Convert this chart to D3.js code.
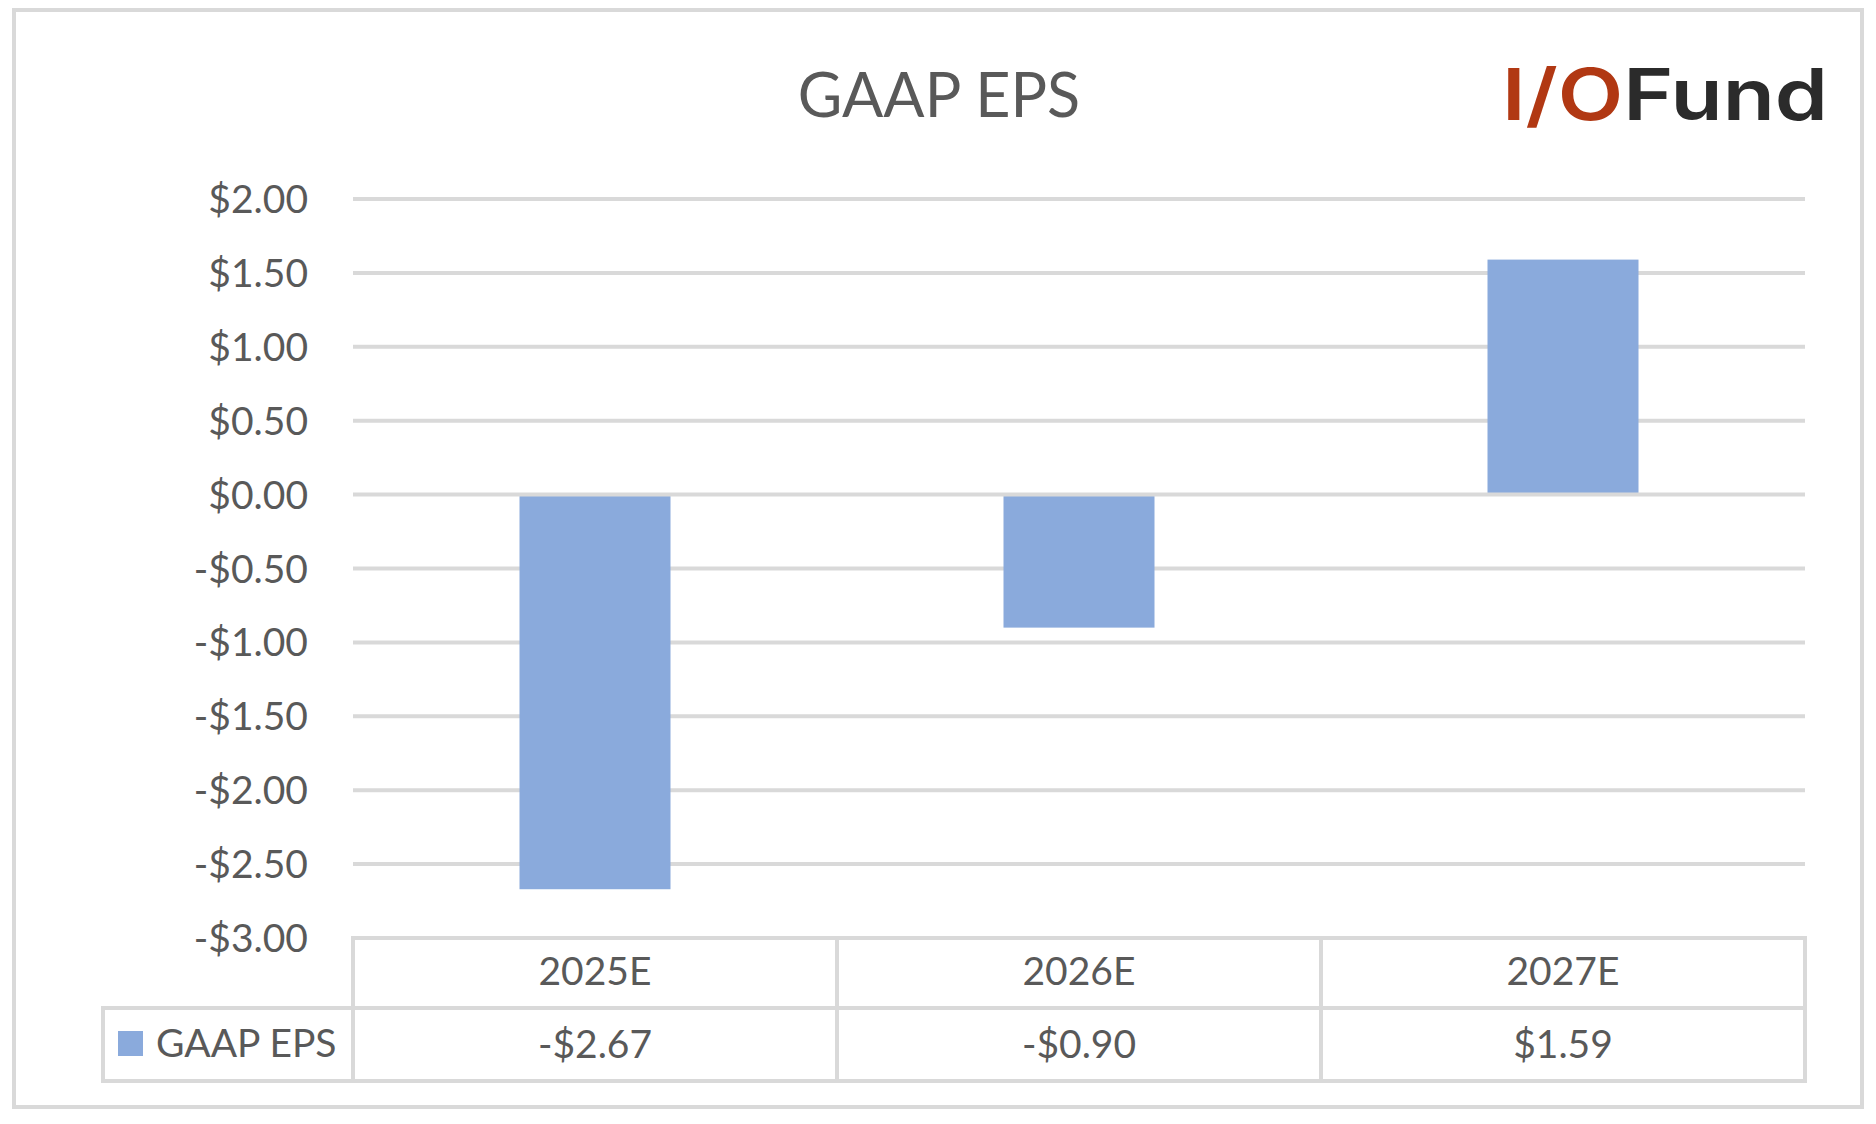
<!DOCTYPE html>
<html>
<head>
<meta charset="utf-8">
<script src="https://cdn.jsdelivr.net/npm/d3@7"></script>
<style>
  body { margin: 0; background: #ffffff; }
  svg { display: block; }
</style>
</head>
<body>
<div id="chart"></div>
<script>
// ----- data -----
const categories = ["2025E", "2026E", "2027E"];
const epsValues = [-2.67, -0.90, 1.59];
const epsLabels = ["-$2.67", "-$0.90", "$1.59"];
const yTicks = [2, 1.5, 1, 0.5, 0, -0.5, -1, -1.5, -2, -2.5, -3];
const seriesName = "GAAP EPS";

const W = 1876, H = 1124;
const barColor = "#8aaadc";
const gridColor = "#d9d9d9";
const textColor = "#595959";
const font = "Lato, 'Open Sans', sans-serif";

const svg = d3.select("#chart").append("svg")
  .attr("width", W)
  .attr("height", H);

// outer frame
svg.append("rect")
  .attr("x", 14).attr("y", 10)
  .attr("width", 1848).attr("height", 1097)
  .attr("fill", "#fff")
  .attr("stroke", gridColor)
  .attr("stroke-width", 4);

const plot = { left: 353, right: 1805, top: 199, bottom: 938 };

const x = d3.scaleBand()
  .domain(categories)
  .range([plot.left, plot.right])
  .paddingInner(0.688)
  .paddingOuter(0.344);

const cols = d3.scaleBand()
  .domain(categories)
  .range([plot.left, plot.right]);

const y = d3.scaleLinear()
  .domain([-3, 2])
  .range([plot.bottom, plot.top]);

// ----- title -----
svg.append("text")
  .attr("x", 939).attr("y", 117)
  .attr("text-anchor", "middle")
  .attr("font-family", font)
  .attr("font-size", 61)
  .attr("fill", textColor)
  .text("GAAP EPS");

// ----- logo -----
const logo = svg.append("text")
  .attr("x", 1502).attr("y", 120)
  .attr("font-family", "Inter, sans-serif")
  .attr("font-weight", 600)
  .attr("font-size", 71)
  .attr("textLength", 326)
  .attr("lengthAdjust", "spacingAndGlyphs");
logo.append("tspan").attr("fill", "#b13813").text("I/O");
logo.append("tspan").attr("fill", "#2b2b2b").text("Fund");

// ----- grid -----
svg.append("g")
  .selectAll("line")
  .data(yTicks.filter(d => d !== 0 && d !== -3))
  .join("line")
  .attr("x1", plot.left).attr("x2", plot.right)
  .attr("y1", d => y(d)).attr("y2", d => y(d))
  .attr("stroke", gridColor)
  .attr("stroke-width", 4);

// ----- y labels -----
const fmt = v => (v < 0 ? "-$" : "$") + Math.abs(v).toFixed(2);
svg.append("g")
  .selectAll("text")
  .data(yTicks)
  .join("text")
  .attr("x", 308)
  .attr("y", d => y(d) + 14)
  .attr("text-anchor", "end")
  .attr("font-family", font)
  .attr("font-size", 39)
  .attr("fill", textColor)
  .text(fmt);

// ----- bars -----
svg.append("g")
  .selectAll("rect")
  .data(epsValues)
  .join("rect")
  .attr("x", (d, i) => x(categories[i]))
  .attr("width", x.bandwidth())
  .attr("y", d => y(Math.max(0, d)))
  .attr("height", d => Math.abs(y(d) - y(0)))
  .attr("fill", barColor);

// zero line over the bars
svg.append("line")
  .attr("x1", plot.left).attr("x2", plot.right)
  .attr("y1", y(0)).attr("y2", y(0))
  .attr("stroke", gridColor)
  .attr("stroke-width", 4);

// ----- data table -----
const rowTop = plot.bottom, rowMid = 1008, rowBot = 1081, legLeft = 103;
const table = svg.append("g")
  .attr("stroke", gridColor)
  .attr("stroke-width", 4)
  .attr("fill", "none");

table.append("line")
  .attr("x1", plot.left - 2).attr("x2", plot.right + 2)
  .attr("y1", rowTop).attr("y2", rowTop);
table.append("line")
  .attr("x1", legLeft - 2).attr("x2", plot.right + 2)
  .attr("y1", rowMid).attr("y2", rowMid);
table.append("line")
  .attr("x1", legLeft - 2).attr("x2", plot.right + 2)
  .attr("y1", rowBot).attr("y2", rowBot);
table.append("line")
  .attr("x1", legLeft).attr("x2", legLeft)
  .attr("y1", rowMid).attr("y2", rowBot);

table.selectAll("line.col")
  .data(categories.map(c => cols(c)).concat([plot.right]))
  .join("line")
  .attr("class", "col")
  .attr("x1", d => d).attr("x2", d => d)
  .attr("y1", rowTop).attr("y2", rowBot);

svg.append("g")
  .selectAll("text")
  .data(categories)
  .join("text")
  .attr("x", d => cols(d) + cols.bandwidth() / 2)
  .attr("y", 985)
  .attr("text-anchor", "middle")
  .attr("font-family", font)
  .attr("font-size", 39)
  .attr("fill", textColor)
  .text(d => d);

svg.append("g")
  .selectAll("text")
  .data(epsLabels)
  .join("text")
  .attr("x", (d, i) => cols(categories[i]) + cols.bandwidth() / 2)
  .attr("y", 1058)
  .attr("text-anchor", "middle")
  .attr("font-family", font)
  .attr("font-size", 39)
  .attr("fill", textColor)
  .text(d => d);

// legend key
svg.append("rect")
  .attr("x", 118).attr("y", 1031)
  .attr("width", 25).attr("height", 25)
  .attr("fill", barColor);

svg.append("text")
  .attr("x", 156).attr("y", 1057)
  .attr("font-family", font)
  .attr("font-size", 39)
  .attr("fill", textColor)
  .text(seriesName);
</script>
</body>
</html>
